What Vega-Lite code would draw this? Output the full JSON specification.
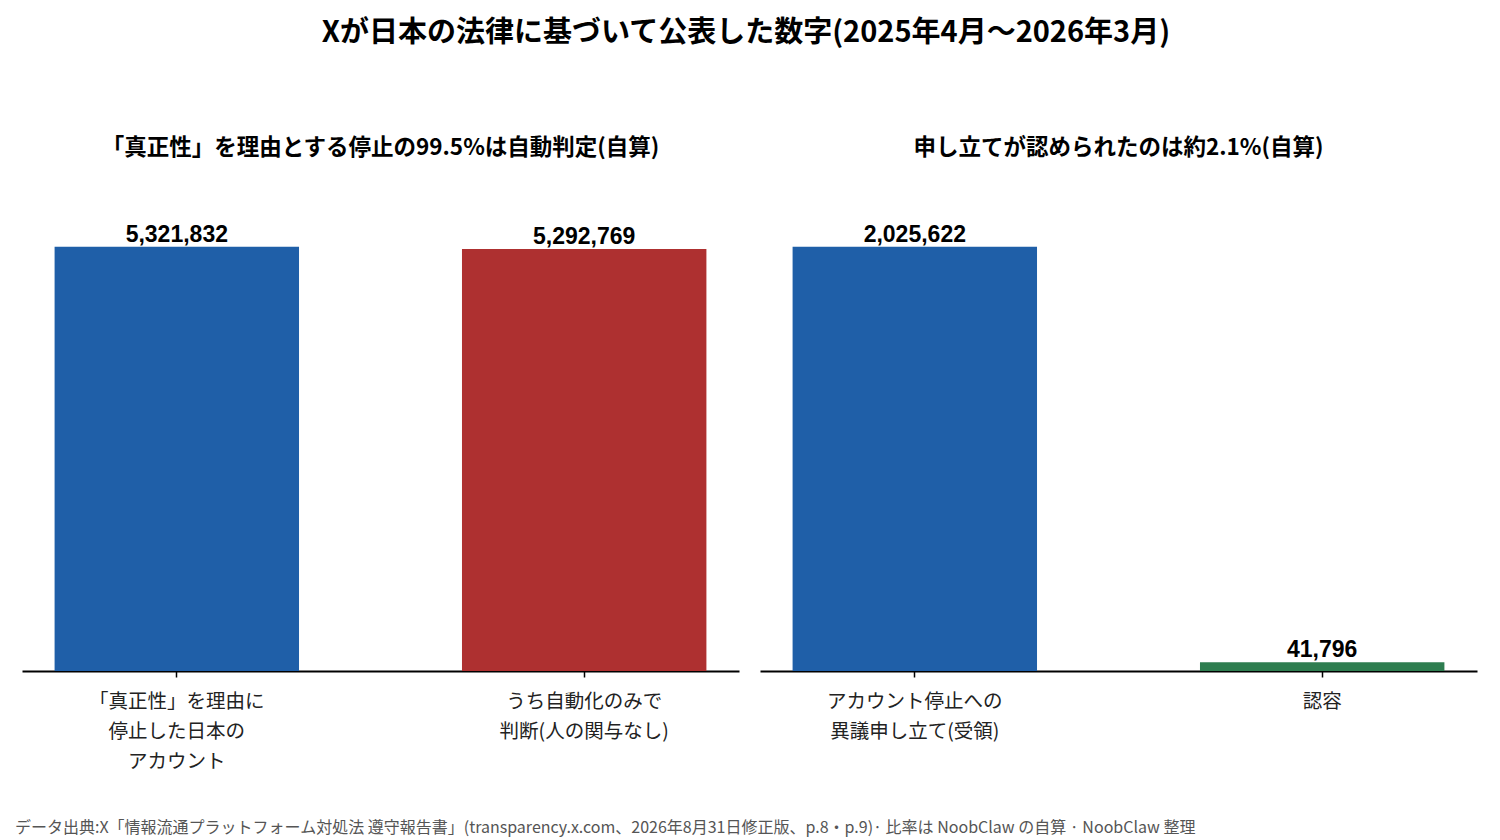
{
  "$schema": "https://vega.github.io/schema/vega-lite/v6.json",
  "padding": {"left": 15, "right": 22, "top": 18, "bottom": 4},
  "background": "white",
  "title": {
    "text": "Xが日本の法律に基づいて公表した数字(2025年4月～2026年3月)",
    "font": "Noto Sans CJK JP",
    "fontSize": 29,
    "fontWeight": "bold",
    "color": "#000000",
    "anchor": "middle",
    "offset": 89
  },
  "datasets": {
    "left": [
      {"label": "「真正性」を理由に\n停止した日本の\nアカウント", "value": 5321832},
      {"label": "うち自動化のみで\n判断(人の関与なし)", "value": 5292769}
    ],
    "right": [
      {"label": "アカウント停止への\n異議申し立て(受領)", "value": 2025622},
      {"label": "認容", "value": 41796}
    ]
  },
  "vconcat": [
    {
      "title": {
        "text": "データ出典:X「情報流通プラットフォーム対処法 遵守報告書」(transparency.x.com、2026年8月31日修正版、p.8・p.9)· 比率は NoobClaw の自算 · NoobClaw 整理",
        "orient": "bottom",
        "anchor": "start",
        "font": "Noto Sans CJK JP",
        "fontSize": 16,
        "fontWeight": "normal",
        "color": "#555555",
        "dx": -7,
        "offset": 49
      },
      "spacing": 21,
      "hconcat": [
        {
          "width": 717,
          "height": 488,
          "title": {"text": "「真正性」を理由とする停止の99.5%は自動判定(自算)"},
          "data": {"name": "left"},
          "encoding": {
            "x": {
              "field": "label",
              "type": "nominal",
              "sort": null,
              "scale": {"paddingInner": 0.4, "paddingOuter": 0.08},
              "axis": {"title": null}
            },
            "y": {
              "field": "value",
              "type": "quantitative",
              "scale": {"domain": [0, 6120107]},
              "axis": null
            }
          },
          "layer": [
            {
              "mark": {"type": "bar"},
              "encoding": {
                "color": {
                  "field": "label",
                  "type": "nominal",
                  "legend": null,
                  "scale": {
                    "domain": ["「真正性」を理由に\n停止した日本の\nアカウント", "うち自動化のみで\n判断(人の関与なし)"],
                    "range": ["#1f5fa8", "#ae3030"]
                  }
                }
              }
            },
            {
              "mark": {"type": "text", "baseline": "bottom", "dy": 0, "font": "Liberation Sans", "fontSize": 23, "fontWeight": "bold", "color": "#000000"},
              "encoding": {"text": {"field": "value", "type": "quantitative", "format": ","}}
            }
          ]
        },
        {
          "width": 717,
          "height": 488,
          "title": {"text": "申し立てが認められたのは約2.1%(自算)"},
          "data": {"name": "right"},
          "encoding": {
            "x": {
              "field": "label",
              "type": "nominal",
              "sort": null,
              "scale": {"paddingInner": 0.4, "paddingOuter": 0.08},
              "axis": {"title": null}
            },
            "y": {
              "field": "value",
              "type": "quantitative",
              "scale": {"domain": [0, 2329465]},
              "axis": null
            }
          },
          "layer": [
            {
              "mark": {"type": "bar"},
              "encoding": {
                "color": {
                  "field": "label",
                  "type": "nominal",
                  "legend": null,
                  "scale": {
                    "domain": ["アカウント停止への\n異議申し立て(受領)", "認容"],
                    "range": ["#1f5fa8", "#2e7d50"]
                  }
                }
              }
            },
            {
              "mark": {"type": "text", "baseline": "bottom", "dy": 0, "font": "Liberation Sans", "fontSize": 23, "fontWeight": "bold", "color": "#000000"},
              "encoding": {"text": {"field": "value", "type": "quantitative", "format": ","}}
            }
          ]
        }
      ],
      "resolve": {"scale": {"x": "independent", "y": "independent", "color": "independent"}}
    }
  ],
  "config": {
    "view": {"stroke": null},
    "title": {
      "font": "Noto Sans CJK JP",
      "fontSize": 22.5,
      "fontWeight": "bold",
      "color": "#000000",
      "anchor": "middle",
      "offset": 24
    },
    "axisX": {
      "labelExpr": "split(datum.label, '\\n')",
      "labelAngle": 0,
      "labelFont": "Noto Sans CJK JP",
      "labelFontSize": 19.5,
      "labelColor": "#222222",
      "labelLineHeight": 30,
      "labelPadding": 15,
      "labelLimit": 0,
      "labelBaseline": "top",
      "domainColor": "#000000",
      "domainWidth": 2,
      "tickColor": "#000000",
      "tickSize": 6,
      "tickWidth": 1.5,
      "grid": false
    }
  }
}
